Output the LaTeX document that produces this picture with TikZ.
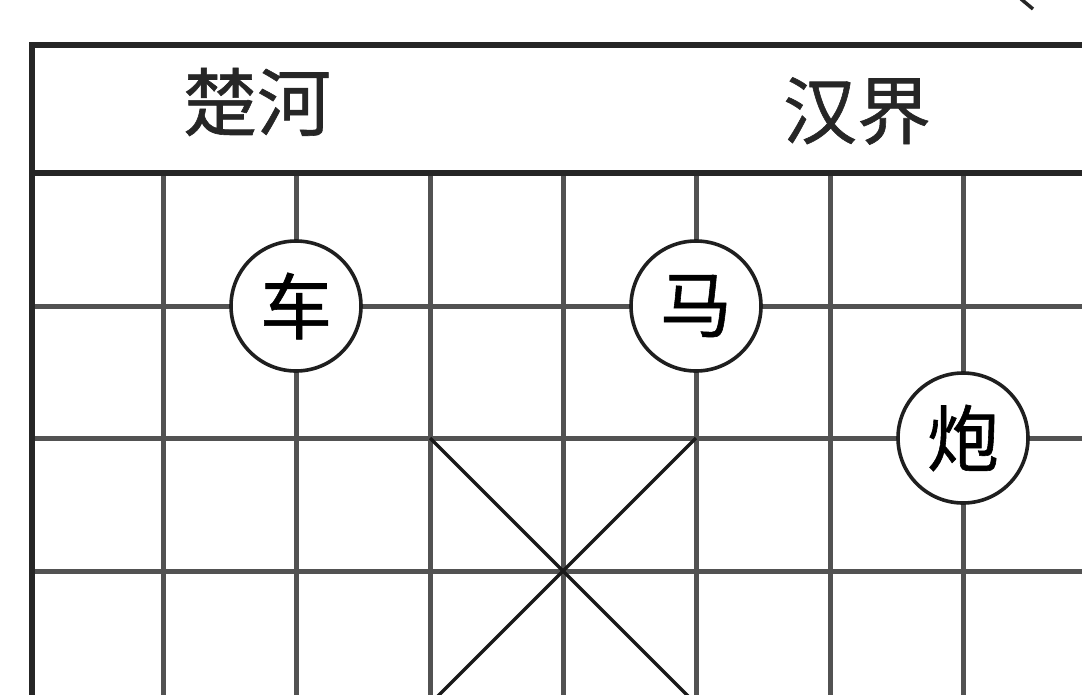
\documentclass[tikz,border=0pt]{standalone}
\usepackage{fontspec}
\newfontfamily\cjk[FakeBold=0.8]{Noto Sans CJK SC}
\begin{document}
\begin{tikzpicture}[x=1pt,y=-1pt,
  gridline/.style={draw=black!68,line width=5pt},
  frameline/.style={draw=black!85,line width=5.5pt},
  diag/.style={draw=black!90,line width=3.5pt},
  piece/.style={circle,draw=black!88,fill=white,line width=3.6pt,minimum size=130pt,inner sep=0pt,font=\cjk\fontsize{72}{72}\selectfont},
  rivertext/.style={font=\cjk\fontsize{74}{74}\selectfont,text=black!85,inner sep=0pt}]
\useasboundingbox (0,0) rectangle (1082,694);
\fill[white] (0,0) rectangle (1082,694);
\begin{scope}
\clip (0,0) rectangle (1082,694);
% grid verticals
\foreach \x in {163,296,430,563,696,830,963}
  \draw[gridline] (\x,173) -- (\x,720);
% grid horizontals
\foreach \y in {306,438,571}
  \draw[gridline] (32,\y) -- (1100,\y);
% palace diagonals
\draw[diag] (430,438) -- (696,704);
\draw[diag] (696,438) -- (430,704);
% frame
\draw[frameline] (1100,45) -- (32,45) -- (32,720);
\draw[frameline] (32,173) -- (1100,173);
% small stroke at top
\draw[black!85,line width=3.5pt] (1021,-1) -- (1033,9);
\end{scope}
\node[rivertext] (chuhe) at (257,102) {楚河};
\node[rivertext] (hanjie) at (857,111) {汉界};
\node[piece] (che) at (296,306) {车};
\node[piece] (ma) at (696,306) {马};
\node[piece] (pao) at (963,438) {炮};
\end{tikzpicture}
\end{document}
